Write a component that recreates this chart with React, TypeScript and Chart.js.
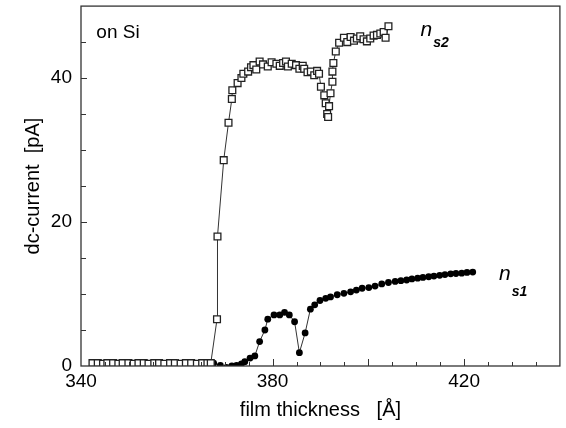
import React, { useEffect, useRef } from "react";
import { Chart, registerables } from "chart.js";

Chart.register(...registerables);

// film thickness [Å] for n_s2 (open squares)
const ns2X = [
  342.4, 343.5, 344.6, 345.5, 346.7, 347.8, 348.7, 349.9, 351.0, 352.0, 353.1, 354.1,
  355.3, 356.3, 357.4, 358.6, 359.6, 360.8, 361.9, 363.0, 364.2, 365.3, 366.4, 367.1,
  368.4, 368.5, 369.8, 370.8, 371.5, 371.6, 372.7, 373.5, 373.9, 374.9, 375.5, 376.0,
  376.6, 377.3, 378.0, 379.0, 379.8, 380.8, 381.5, 382.2, 382.8, 383.2, 384.0, 384.9,
  385.6, 386.3, 386.6, 387.3, 388.0, 388.7, 389.3, 389.7, 390.1, 390.8, 391.1, 391.4,
  391.6, 391.8, 392.1, 392.5, 392.5, 392.7, 393.2, 393.9, 394.9, 395.6, 396.3, 397.0,
  397.6, 398.3, 399.0, 399.7, 400.4, 401.1, 401.8, 402.5, 403.2, 403.6, 404.2,
];
// dc-current [pA] for n_s2
const ns2Y = [
  0.4, 0.4, 0.3, 0.4, 0.4, 0.3, 0.4, 0.4, 0.3, 0.4, 0.4, 0.3,
  0.4, 0.4, 0.3, 0.4, 0.4, 0.3, 0.4, 0.4, 0.3, 0.4, 0.4, 0.4,
  6.5, 18.0, 28.6, 33.8, 37.1, 38.3, 39.3, 40.0, 40.6, 40.9, 41.5, 41.8,
  41.2, 42.3, 41.9, 41.6, 42.2, 42.0, 41.7, 42.1, 42.3, 41.6, 42.0, 41.8,
  41.3, 41.7, 41.3, 40.8, 40.9, 40.4, 41.0, 40.6, 38.8, 37.6, 36.5, 35.0,
  34.6, 36.1, 37.9, 39.5, 40.9, 42.1, 43.7, 44.9, 45.6, 45.0, 45.7, 45.2,
  45.5, 45.8, 45.4, 45.1, 45.5, 45.9, 46.0, 46.2, 46.4, 45.6, 47.2,
];

// film thickness [Å] for n_s1 (filled circles)
const ns1X = [
  343.0, 344.8, 346.5, 348.3, 350.0, 351.8, 353.5, 355.3, 357.0, 358.8, 360.5, 362.3,
  364.0, 365.8, 367.7, 369.1, 370.4, 371.5, 372.5, 373.5, 374.2, 375.3, 376.3, 377.3,
  378.4, 379.0, 380.3, 381.5, 382.5, 383.5, 384.6, 385.6, 386.8, 387.9, 388.8, 389.9,
  391.1, 392.1, 393.5, 394.9, 396.3, 397.5, 398.7, 400.1, 401.4, 402.8, 404.2, 405.6,
  406.8, 408.0, 409.1, 410.3, 411.4, 412.6, 413.7, 414.9, 416.0, 417.2, 418.3, 419.5,
  420.6, 421.8,
];
// dc-current [pA] for n_s1
const ns1Y = [
  0.0, 0.0, 0.0, 0.0, 0.0, 0.0, 0.0, 0.0, 0.0, 0.0, 0.0, 0.0,
  0.0, 0.0, 0.4, 0.1, -0.2, 0.0, 0.1, 0.3, 0.6, 1.1, 1.4, 3.4,
  5.0, 6.5, 7.1, 7.1, 7.45, 7.1, 6.15, 1.85, 4.6, 7.9, 8.5, 9.1,
  9.4, 9.6, 9.9, 10.1, 10.3, 10.55, 10.8, 10.9, 11.1, 11.4, 11.6, 11.75,
  11.85, 11.95, 12.1, 12.2, 12.3, 12.4, 12.5, 12.6, 12.7, 12.8, 12.85, 12.9,
  13.0, 13.05,
];

const xLabelTicks = [340, 380, 420];
const yLabelTicks = [0, 20, 40];
const xTitle = "film thickness   [Å]";
const yTitle = "dc-current  [pA]";

const FONT = "'Liberation Sans', Arial, Helvetica, sans-serif";
const INK = "#000";

const framePlugin = {
  id: "frameAndTicks",
  afterDraw(chart: any) {
    const { ctx, chartArea, scales } = chart;
    const xs = scales.x;
    const ys = scales.y;
    ctx.save();
    ctx.strokeStyle = "#333";
    ctx.lineWidth = 1.3;
    ctx.strokeRect(chartArea.left, chartArea.top, chartArea.right - chartArea.left, chartArea.bottom - chartArea.top);
    ctx.lineWidth = 1;
    ctx.beginPath();
    for (let v = 345; v < 440; v += 5) {
      const px = Math.round(xs.getPixelForValue(v)) + 0.5;
      const len = v % 20 === 0 ? 7 : 4;
      ctx.moveTo(px, chartArea.bottom);
      ctx.lineTo(px, chartArea.bottom - len);
    }
    for (let v = 5; v < 50; v += 5) {
      const py = Math.round(ys.getPixelForValue(v)) + 0.5;
      const len = v % 20 === 0 ? 6 : 5;
      ctx.moveTo(chartArea.left, py);
      ctx.lineTo(chartArea.left + len, py);
    }
    ctx.stroke();

    // annotations
    ctx.fillStyle = INK;
    ctx.textBaseline = "alphabetic";
    ctx.textAlign = "left";
    ctx.font = `19px ${FONT}`;
    ctx.fillText("on Si", xs.getPixelForValue(343.2), ys.getPixelForValue(45.6));

    const drawN = (xv: number, yv: number, sub: string, dy: number) => {
      const px = xs.getPixelForValue(xv);
      const py = ys.getPixelForValue(yv);
      ctx.font = `italic 21px ${FONT}`;
      ctx.fillText("n", px, py);
      const w = ctx.measureText("n").width;
      ctx.font = `bold italic 14px ${FONT}`;
      ctx.fillText(sub, px + w + 1, py + dy);
    };
    drawN(410.9, 45.8, "s2", 11);
    drawN(427.3, 12.0, "s1", 16);
    ctx.restore();
  },
};

export default function App() {
  const canvasRef = useRef<HTMLCanvasElement | null>(null);

  useEffect(() => {
    const canvas = canvasRef.current;
    if (!canvas) return;
    const ns2 = ns2X.map((x, i) => ({ x, y: ns2Y[i] }));
    const ns1 = ns1X.map((x, i) => ({ x, y: ns1Y[i] }));
    const chart = new Chart(canvas, {
      type: "line",
      data: {
        datasets: [
          {
            label: "n_s2",
            data: ns2,
            borderColor: "#333",
            borderWidth: 1,
            pointStyle: "rect",
            pointRadius: 4.8,
            pointBackgroundColor: "#fff",
            pointBorderColor: "#222",
            pointBorderWidth: 1.3,
            tension: 0,
          },
          {
            label: "n_s1",
            data: ns1,
            borderColor: "#333",
            borderWidth: 1,
            pointStyle: "circle",
            pointRadius: 3.4,
            pointBackgroundColor: "#000",
            pointBorderColor: "#000",
            pointBorderWidth: 0,
            tension: 0,
          },
        ],
      },
      options: {
        animation: false,
        responsive: false,
        maintainAspectRatio: false,
        layout: { padding: { top: 5, right: 4, left: 0, bottom: 0 } },
        plugins: { legend: { display: false }, tooltip: { enabled: false } },
        scales: {
          x: {
            type: "linear",
            min: 340,
            max: 440,
            grid: { display: false, drawTicks: false },
            border: { display: false },
            ticks: {
              stepSize: 20,
              padding: 4,
              color: INK,
              font: { family: FONT, size: 19 },
              autoSkip: false,
              maxRotation: 0,
              callback: (v: any) => (xLabelTicks.includes(Number(v)) ? String(v) : ""),
            },
            title: {
              display: true,
              text: xTitle,
              color: INK,
              font: { family: FONT, size: 20 },
              padding: { top: 0, bottom: 6 },
            },
            afterFit: (s: any) => {
              s.height = 62;
              s.paddingLeft = 0;
              s.paddingRight = 0;
            },
          },
          y: {
            type: "linear",
            min: 0,
            max: 50,
            grid: { display: false, drawTicks: false },
            border: { display: false },
            ticks: {
              stepSize: 20,
              padding: 9,
              color: INK,
              font: { family: FONT, size: 19 },
              autoSkip: false,
              callback: (v: any) => (yLabelTicks.includes(Number(v)) ? String(v) : ""),
            },
            title: {
              display: true,
              text: yTitle,
              color: INK,
              font: { family: FONT, size: 20 },
              padding: { top: 21, bottom: 0 },
            },
            afterFit: (s: any) => {
              s.width = 81;
              s.paddingTop = 0;
              s.paddingBottom = 0;
            },
          },
        },
      },
      plugins: [framePlugin],
    });
    return () => chart.destroy();
  }, []);

  return (
    <div style={{ position: "fixed", left: 0, top: 0, width: 566, height: 428, background: "#fff" }}>
      <canvas ref={canvasRef} width={566} height={428} style={{ width: 566, height: 428 }} />
    </div>
  );
}
